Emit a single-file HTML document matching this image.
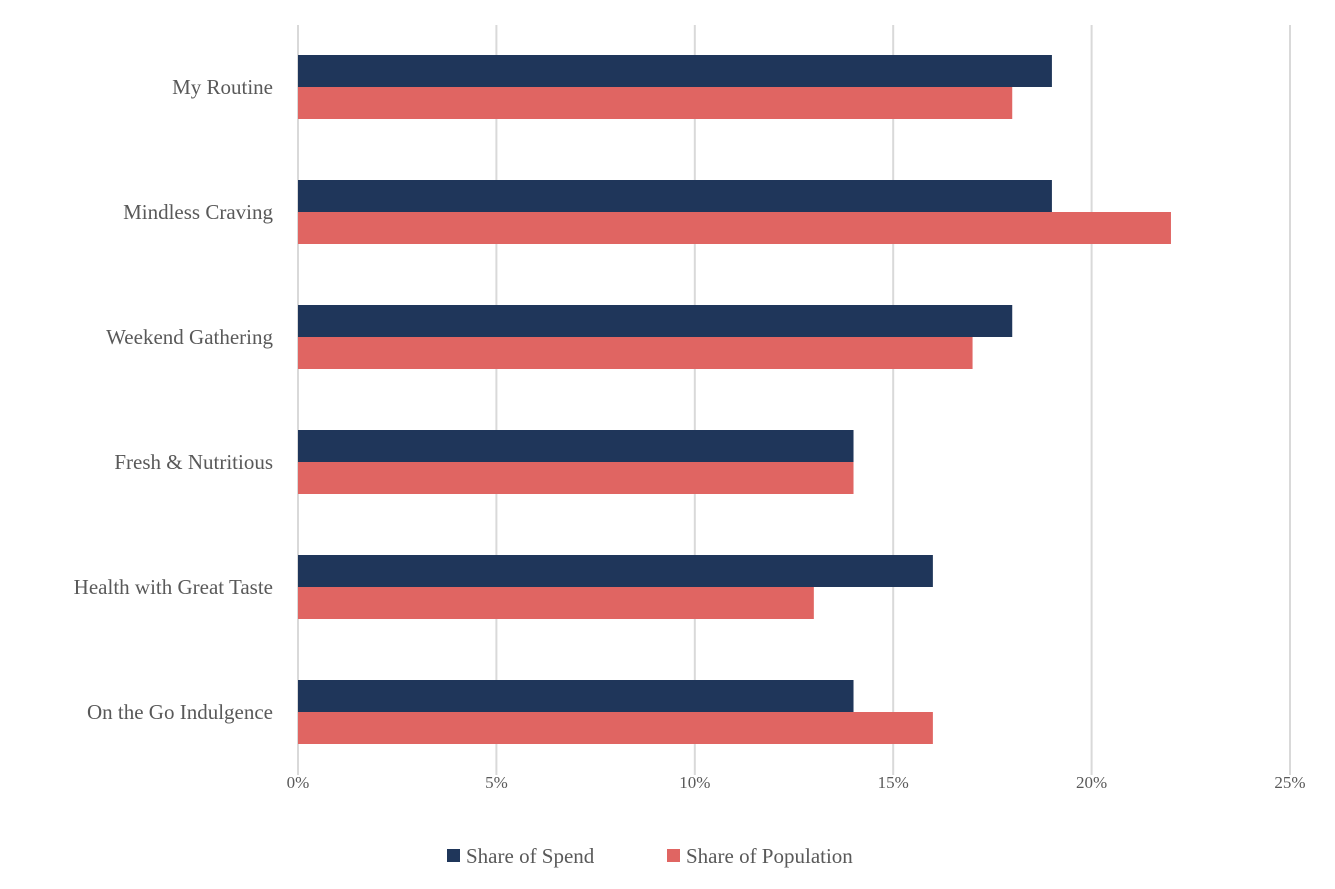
<!DOCTYPE html>
<html><head><meta charset="utf-8"><style>
html,body{margin:0;padding:0;background:#fff;}
svg{display:block;}
text{font-family:"Liberation Serif",serif;}
</style></head><body>
<svg id="chart" width="1335" height="889"></svg>
<script>
const categories = ["My Routine","Mindless Craving","Weekend Gathering","Fresh & Nutritious","Health with Great Taste","On the Go Indulgence"];
const spendValues = [19,19,18,14,16,14];
const popValues = [18,22,17,14,13,16];
const tickValues = [0,5,10,15,20,25];
const tickLabels = ["0%","5%","10%","15%","20%","25%"];

{
const NS="http://www.w3.org/2000/svg";
const svgEl=document.getElementById('chart');
const x0=298, pxPer=39.68, plotTop=25, plotBottom=775, band=125, firstCenter=87, barH=32;
const xScale=v=>x0+v*pxPer;
const yCenter=i=>firstCenter+i*band;
function mk(tag,attrs){const e=document.createElementNS(NS,tag);for(const k in attrs)e.setAttribute(k,attrs[k]);svgEl.appendChild(e);return e;}

tickValues.forEach((t,i)=>{
  const g=mk('line',{x1:xScale(t),x2:xScale(t),y1:plotTop,y2:plotBottom,stroke:'#d9d9d9','stroke-width':2});
  
  
  const tx=mk('text',{x:xScale(t),y:788,'text-anchor':'middle','font-size':17,fill:'#595959'});
  tx.textContent=tickLabels[i];
  
  
});

categories.forEach((c,i)=>{
  const yc=yCenter(i);
  const b1=mk('rect',{x:x0,y:yc-barH,width:xScale(spendValues[i])-x0,height:barH,fill:'#1f365a'});
  
  
  const b2=mk('rect',{x:x0,y:yc,width:xScale(popValues[i])-x0,height:barH,fill:'#e06562'});
  
  
  const l=mk('text',{x:273,y:yc+7,'text-anchor':'end','font-size':21,fill:'#595959'});
  l.textContent=c;
  
  
});

const legend=[["Share of Spend","#1f365a",447],["Share of Population","#e06562",667]];
legend.forEach(([name,col,x])=>{
  const r=mk('rect',{x:x,y:849,width:13,height:13,fill:col});
  
  
  const t=mk('text',{x:x+19,y:863,'font-size':21,fill:'#595959'});
  t.textContent=name;
  
  
});
}
</script>
</body></html>
